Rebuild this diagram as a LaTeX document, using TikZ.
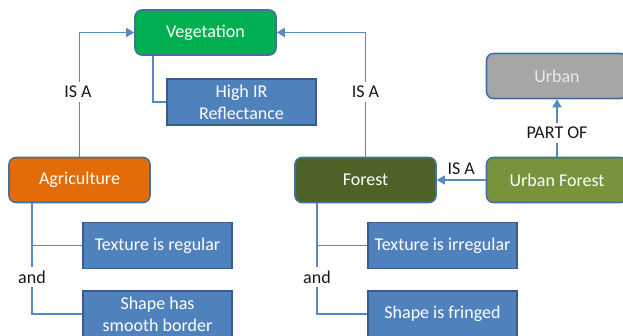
\documentclass[tikz,border=0pt]{standalone}
\usepackage{fontspec}
\setmainfont{Carlito}
\usetikzlibrary{arrows.meta}
\definecolor{vegc}{HTML}{00B050}
\definecolor{agric}{HTML}{E36C09}
\definecolor{forc}{HTML}{4F6228}
\definecolor{ufc}{HTML}{77933C}
\definecolor{urbc}{HTML}{A6A6A6}
\definecolor{boxc}{HTML}{4F81BD}
\definecolor{boxedge}{HTML}{385D8A}
\definecolor{edgec}{HTML}{41719C}
\definecolor{linkc}{HTML}{5588C6}
\begin{document}
\begin{tikzpicture}[x=1pt,y=-1pt,
  font=\fontsize{18}{20}\selectfont,
  concept/.style={draw=edgec, line width=1.6pt, rounded corners=7pt,
    minimum width=141pt, minimum height=45pt, inner sep=0pt, text=white},
  attr/.style={draw=boxedge, line width=1.4pt, fill=boxc,
    minimum width=149pt, minimum height=46pt, inner sep=0pt, text=white,
    align=center, font=\fontsize{18}{22}\selectfont},
  link/.style={draw=linkc, line width=1.5pt},
  arrowlink/.style={link, -{Triangle[length=8pt,width=9pt]}},
  lbl/.style={fill=white, inner sep=4pt, text=black!90}
]
\useasboundingbox (0,0) rectangle (623,336);

% concept boxes
\node[concept, fill=vegc]   (veg)    at (205.5,32.5) {Vegetation};
\node[concept, fill=agric]  (agri)   at (79.5,180)   {Agriculture};
\node[concept, fill=forc]   (forest) at (365.5,180)  {Forest};
\node[concept, fill=urbc, text=white!92!black] (urban) at (557,76) {Urban};
\node[concept, fill=ufc]    (uf)     at (557,180)    {Urban Forest};

% attribute boxes
\node[attr] (hir)    at (241.5,102) {High IR\\Reflectance};
\node[attr] (tex1)   at (157.5,245.5) {Texture is regular};
\node[attr] (shape1) at (157.5,314) {Shape has\\smooth border};
\node[attr] (tex2)   at (442.5,245.5) {Texture is irregular};
\node[attr] (shape2) at (442.5,314) {Shape is fringed};

% attribute connectors
\draw[link] ([xshift=-52.5pt]veg.south) |- (hir.west);
\draw[link] ([xshift=-47.5pt]agri.south) |- (tex1.west);
\draw[link] ([xshift=-47.5pt]agri.south) |- (shape1.west);
\draw[link] ([xshift=-48.5pt]forest.south) |- (tex2.west);
\draw[link] ([xshift=-48.5pt]forest.south) |- (shape2.west);

% relation arrows
\draw[arrowlink] (agri.north) |- (veg.west);
\draw[arrowlink] (forest.north) |- (veg.east);
\draw[arrowlink] (uf.north) -- (urban.south);
\draw[arrowlink] (uf.west) -- node[above=3pt, inner sep=2pt, text=black!90] (isa3) {IS A} (forest.east);

% relation labels
\node[lbl] (isa1)   at (78,92)   {IS A};
\node[lbl] (isa2)   at (365.5,92) {IS A};
\node[lbl] (partof) at (557,133) {PART OF};
\node[lbl] (and1)   at (32,277)  {and};
\node[lbl] (and2)   at (317,277) {and};
\end{tikzpicture}
\end{document}
